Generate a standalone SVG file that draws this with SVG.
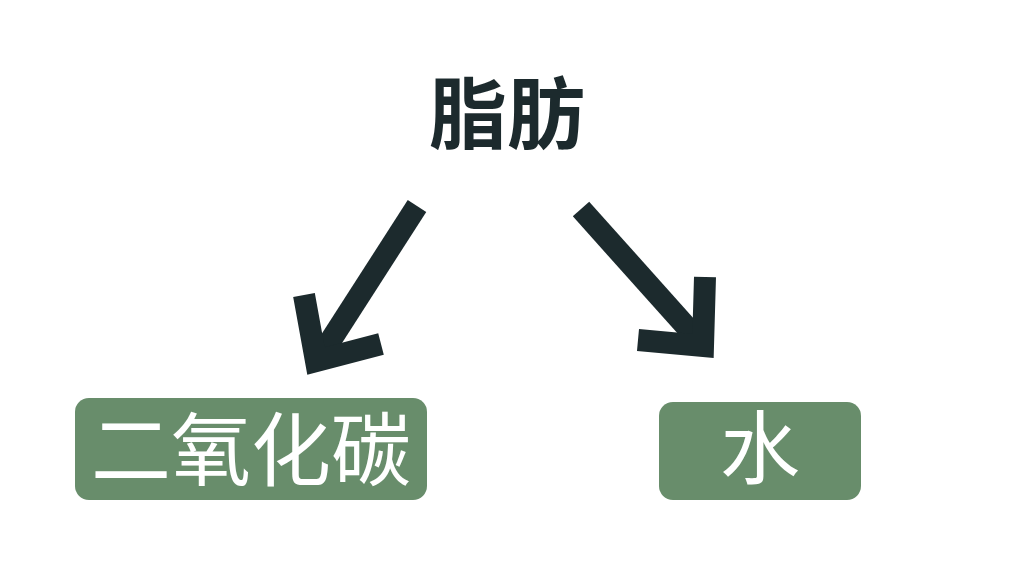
<svg xmlns="http://www.w3.org/2000/svg" width="1024" height="577" viewBox="0 0 1024 577">
<style>
.box{fill:#688d6b}
.lbl{fill:#ffffff;font-family:"Noto Sans CJK SC",sans-serif;font-size:80px;text-anchor:middle}
.title{fill:#1c2a2d;font-family:"Noto Sans CJK SC",sans-serif;font-size:78px;font-weight:bold;text-anchor:middle}
.arr{fill:none;stroke:#1c2a2d;stroke-width:22;stroke-linecap:butt;stroke-linejoin:miter}
</style>
<rect width="1024" height="577" fill="#ffffff"/>
<g id="fat"><text class="title" x="507" y="143">脂肪</text></g>
<g id="co2"><rect class="box" x="75" y="398" width="352" height="102" rx="14"/><text class="lbl" x="251" y="479">二氧化碳</text></g>
<g id="water"><rect class="box" x="659" y="402" width="202" height="98" rx="14"/><text class="lbl" x="760" y="477">水</text></g>
<g id="connectors">
<path class="arr" d="M417,206 L318,360"/>
<path class="arr" d="M304,295 L316,361 L381,344"/>
<path class="arr" d="M581,209 L700,342"/>
<path class="arr" d="M705,277 L703,346 L638,340"/>
</g>
</svg>
